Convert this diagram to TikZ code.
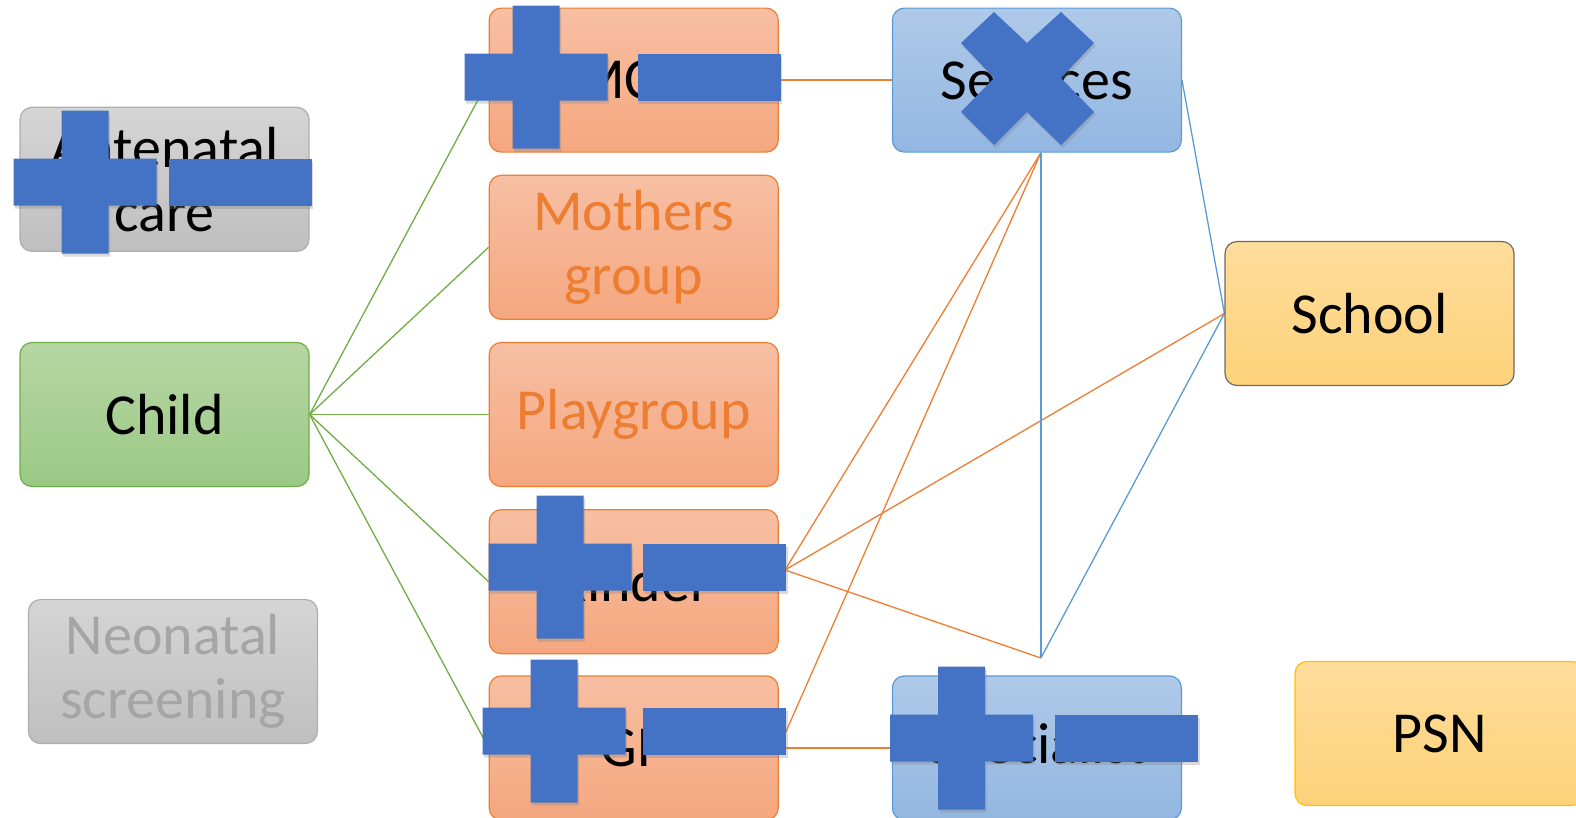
\documentclass[tikz,border=0pt]{standalone}
\usepackage{fontspec}
\setmainfont{Carlito}
\usepackage{xcolor}
\usetikzlibrary{positioning,shadows,backgrounds}
\definecolor{greyline}{HTML}{AEAEAE}
\definecolor{greytop}{HTML}{D5D5D5}
\definecolor{greybot}{HTML}{BFBFBF}
\definecolor{greytext}{HTML}{A5A5A5}
\definecolor{greenline}{HTML}{70AD47}
\definecolor{greentop}{HTML}{B6D6A3}
\definecolor{greenbot}{HTML}{9BC985}
\definecolor{orangeline}{HTML}{ED7D31}
\definecolor{orangetop}{HTML}{F7BFA3}
\definecolor{orangebot}{HTML}{F5A77F}
\definecolor{blueline}{HTML}{5B9BD5}
\definecolor{bluetop}{HTML}{AFC9E8}
\definecolor{bluebot}{HTML}{93B7E2}
\definecolor{goldtop}{HTML}{FEDC9B}
\definecolor{goldbot}{HTML}{FED27A}
\definecolor{goldline}{HTML}{FFC000}
\definecolor{schoolline}{HTML}{6B6B6B}
\definecolor{markblue}{HTML}{4472C4}

% plus and minus marks laid over the boxes
\newcommand{\blueplus}[2]{%
  \fill[bluemark] (#1-23.5,#2-71.5) rectangle ++(47,143)
                  (#1-71.5,#2-23.5) rectangle ++(143,47);}
\newcommand{\blueminus}[2]{%
  \fill[bluemark] (#1-71.5,#2-23.5) rectangle ++(143,47);}

\begin{document}
\begin{tikzpicture}[
      x=1pt, y=-1pt,
      box/.style      = {draw, rounded corners=12pt, line width=1.2pt,
                         minimum width=289pt, minimum height=144pt, align=center,
                         font=\fontsize{58}{64}\selectfont},
      greybox/.style  = {box, draw=greyline, top color=greytop, bottom color=greybot},
      greenbox/.style = {box, draw=greenline, top color=greentop, bottom color=greenbot},
      orngbox/.style  = {box, draw=orangeline, top color=orangetop, bottom color=orangebot},
      bluebox/.style  = {box, draw=blueline, top color=bluetop, bottom color=bluebot},
      goldbox/.style  = {box, draw=goldline, top color=goldtop, bottom color=goldbot},
      link/.style     = {line width=1.3pt},
      bluemark/.style = {fill=markblue,
                         drop shadow={opacity=0.3, shadow xshift=1.5pt, shadow yshift=-3pt}},
    ]
    \clip (0,0) rectangle (1576,817);

    % ---- left column ----
    \node[greenbox] (child) at (164.5,414.5) {Child};
    \node[greybox, above=90pt of child] (antenatal) {Antenatal\\care};
    \node[greybox, text=greytext] (neonatal) at (173,671.5) {Neonatal\\screening};

    % ---- middle column ----
    \node[orngbox, text=orangeline, right=179pt of child] (playgroup) {Playgroup};
    \node[orngbox, text=orangeline, above=22pt of playgroup] (mothers) {Mothers\\group};
    \node[orngbox, above=22pt of mothers] (mch) {MCH};
    \node[orngbox, below=22pt of playgroup] (kinder) {Kinder};
    \node[orngbox, below=21pt of kinder] (gp) {GP};

    % ---- right columns ----
    \node[bluebox, right=113pt of mch] (services) {Services};
    \node[bluebox, right=113pt of gp] (specialist) {Specialist};
    \node[goldbox, draw=schoolline] (school) at (1369.5,313.5) {School};
    \node[goldbox] (psn) at (1439.5,733.5) {PSN};

    \coordinate (kout) at (785,570);
    \coordinate (sbot) at ([xshift=4pt]services.south);
    \coordinate (hub)  at (sbot |- 0,658);

    % ---- connectors, behind the boxes ----
    \begin{pgfonlayer}{background}
    \foreach \t in {mch,mothers,playgroup,kinder,gp}
      \draw[link, greenline] (child.east) -- (\t.west);

    \draw[link, orangeline] (mch.east) -- (services.west);
    \draw[link, orangeline] (gp.east) -- (specialist.west);
    \draw[link, orangeline] (gp.east) -- (sbot);
    \draw[link, orangeline] (kout) -- (sbot);
    \draw[link, orangeline] (kout) -- (school.west);
    \draw[link, orangeline] (kout) -- (hub);

    \draw[link, blueline] (services.east) -- (school.west);
    \draw[link, blueline] (sbot) -- (hub);
    \draw[link, blueline] (hub) -- (school.west);
    \end{pgfonlayer}

    % ---- marks ----
    \blueplus{85}{182}       \blueminus{240}{182}
    \blueplus{536}{77}       \blueminus{709}{77}
    \blueplus{560}{567}      \blueminus{714.5}{567}
    \blueplus{554}{731}      \blueminus{714.5}{731}
    \blueplus{961.5}{738}    \blueminus{1126.5}{738}

    \fill[bluemark] (961,43) -- (994,12) -- (1027,43) -- (1061,12) -- (1094,43)
      -- (1061,78) -- (1094,112) -- (1061,145) -- (1027,112) -- (994,145)
      -- (961,112) -- (994,78) -- cycle;
  \end{tikzpicture}
\end{document}
